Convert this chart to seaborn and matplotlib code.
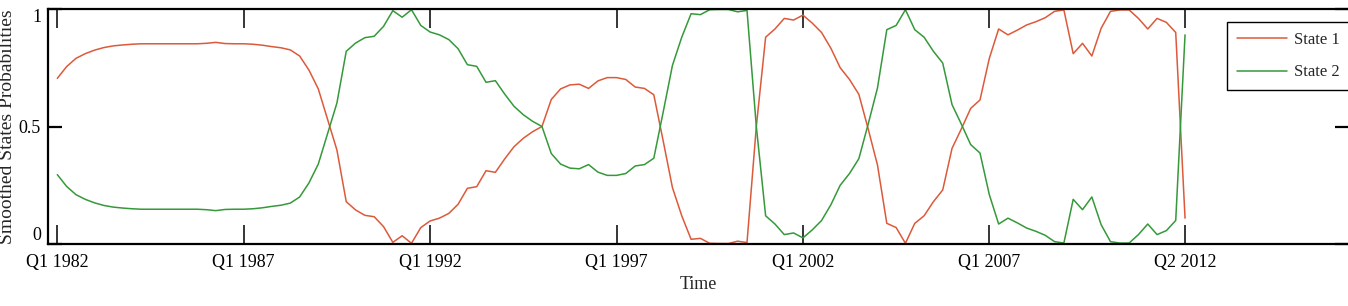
import matplotlib
matplotlib.use("Agg")
import matplotlib.pyplot as plt
import seaborn as sns
import pandas as pd

# ---- data (quarterly, Q1 1982 .. Q2 2012) ----
state1 = [0.705, 0.755, 0.790, 0.810, 0.825, 0.836, 0.843, 0.847, 0.850, 0.852,
          0.852, 0.852, 0.852, 0.852, 0.852, 0.852, 0.854, 0.858, 0.853, 0.852,
          0.852, 0.850, 0.846, 0.840, 0.835, 0.826, 0.800, 0.740, 0.660, 0.530,
          0.400, 0.180, 0.145, 0.122, 0.116, 0.074, 0.007, 0.035, 0.003, 0.070,
          0.098, 0.110, 0.130, 0.169, 0.237, 0.244, 0.312, 0.305, 0.362, 0.414,
          0.450, 0.478, 0.500, 0.615, 0.660, 0.677, 0.680, 0.662, 0.694, 0.708,
          0.708, 0.700, 0.668, 0.662, 0.635, 0.440, 0.240, 0.120, 0.020, 0.024,
          0.003, 0.002, 0.002, 0.012, 0.006, 0.500, 0.880, 0.915, 0.960, 0.953,
          0.974, 0.940, 0.900, 0.833, 0.750, 0.700, 0.637, 0.490, 0.336, 0.088,
          0.070, 0.003, 0.088, 0.120, 0.180, 0.230, 0.407, 0.490, 0.577, 0.613,
          0.790, 0.915, 0.890, 0.910, 0.932, 0.946, 0.963, 0.990, 0.996, 0.810,
          0.854, 0.800, 0.918, 0.990, 0.996, 0.996, 0.960, 0.915, 0.960, 0.943,
          0.900, 0.110]
state2 = [0.295, 0.245, 0.210, 0.190, 0.175, 0.164, 0.157, 0.153, 0.150, 0.148,
          0.148, 0.148, 0.148, 0.148, 0.148, 0.148, 0.146, 0.142, 0.147, 0.148,
          0.148, 0.150, 0.154, 0.160, 0.165, 0.174, 0.200, 0.260, 0.340, 0.470,
          0.600, 0.820, 0.855, 0.878, 0.884, 0.926, 0.993, 0.965, 0.997, 0.930,
          0.902, 0.890, 0.870, 0.831, 0.763, 0.756, 0.688, 0.695, 0.638, 0.586,
          0.550, 0.522, 0.500, 0.385, 0.340, 0.323, 0.320, 0.338, 0.306, 0.292,
          0.292, 0.300, 0.332, 0.338, 0.365, 0.560, 0.760, 0.880, 0.980, 0.976,
          0.997, 0.998, 0.998, 0.988, 0.994, 0.500, 0.120, 0.085, 0.040, 0.047,
          0.026, 0.060, 0.100, 0.167, 0.250, 0.300, 0.363, 0.510, 0.664, 0.912,
          0.930, 0.997, 0.912, 0.880, 0.820, 0.770, 0.593, 0.510, 0.423, 0.387,
          0.210, 0.085, 0.110, 0.090, 0.068, 0.054, 0.037, 0.010, 0.004, 0.190,
          0.146, 0.200, 0.082, 0.010, 0.004, 0.004, 0.040, 0.085, 0.040, 0.057,
          0.100, 0.890]
quarter = list(range(len(state1)))  # quarter index, 0 = Q1 1982
tick_quarters = [0, 20, 40, 60, 80, 100, 121]
tick_labels = ["Q1 1982", "Q1 1987", "Q1 1992", "Q1 1997", "Q1 2002", "Q1 2007", "Q2 2012"]
series_names = ["State 1", "State 2"]

df = pd.DataFrame({
    "quarter": quarter * 2,
    "prob": state1 + state2,
    "State": [series_names[0]] * len(state1) + [series_names[1]] * len(state2),
})

# ---- style ----
sns.set_style("white")
plt.rcParams["font.family"] = ["Liberation Serif", "DejaVu Serif"]

W, H = 1348, 306
fig = plt.figure(figsize=(W / 100, H / 100), dpi=100)
ax_l, ax_r, ax_t, ax_b = 48, 1349, 9, 244
ax = fig.add_axes([ax_l / W, 1 - ax_b / H, (ax_r - ax_l) / W, (ax_b - ax_t) / H])

red = "#dc5a3a"
green = "#35993a"
sns.lineplot(data=df, x="quarter", y="prob", hue="State", palette=[red, green],
             linewidth=1.1, ax=ax, legend=True)

px_per_q = 9.32
x0 = -1.0
ax.set_xlim(x0, x0 + (ax_r - ax_l) / px_per_q)
ax.set_ylim(0, 1)

for s in ax.spines.values():
    s.set_color("black")
    s.set_linewidth(1.6)
ax.spines["right"].set_visible(False)

ax.set_xticks(tick_quarters)
ax.set_xticklabels(tick_labels, fontsize=13)
ax.tick_params(axis="x", direction="in", length=13.5, width=1.1, top=True,
               bottom=True, labeltop=False, pad=7, colors="black")

ax.set_yticks([0, 0.5, 1])
ax.set_yticklabels(["0", "0.5", "1"], fontsize=13)
ax.tick_params(axis="y", direction="in", length=10, width=1.6, left=True,
               right=True, labelright=False, pad=5, colors="black")
ylabs = ax.get_yticklabels()
ylabs[0].set_va("bottom")
ylabs[2].set_va("top")

ax.set_xlabel("Time", fontsize=13, labelpad=4)
ax.set_ylabel("")
fig.text(8 / W, 1 - 127 / H, "Smoothed States Probabilities", rotation=90,
         ha="center", va="center", fontsize=14)

handles, labels = ax.get_legend_handles_labels()
ax.legend(handles, labels, loc="upper left",
          bbox_to_anchor=(1227 / W, 1 - 21.7 / H), bbox_transform=fig.transFigure,
          frameon=True, fancybox=False, edgecolor="black", framealpha=1,
          fontsize=12, handlelength=3.0, handletextpad=0.4, borderpad=0.6,
          labelspacing=1.0, borderaxespad=0)
ax.get_legend().get_frame().set_linewidth(1.0)

fig.savefig("out.png", dpi=100)
